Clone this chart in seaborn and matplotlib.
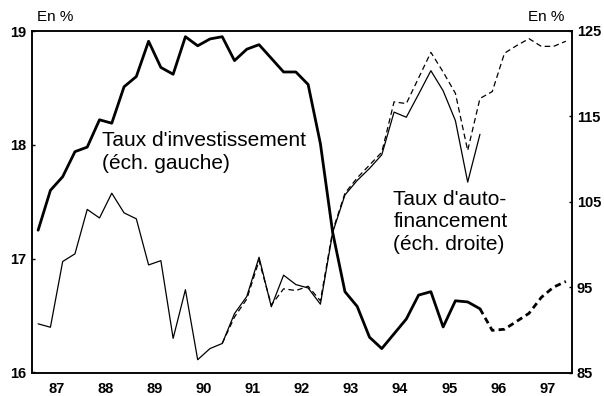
import numpy as np
import pandas as pd
import matplotlib
matplotlib.use("Agg")
import matplotlib.pyplot as plt
import seaborn as sns

# Quarterly series, 1987Q1 .. 1997Q4 (44 quarters)
years = list(range(1987, 1998))
year_labels = ["87", "88", "89", "90", "91", "92", "93", "94", "95", "96", "97"]

# Taux d'investissement (left scale), observed 87Q1..96Q1
invest_obs = [17.25, 17.60, 17.72, 17.94, 17.98, 18.22, 18.19, 18.51,
              18.60, 18.91, 18.68, 18.62, 18.95, 18.87, 18.93, 18.95,
              18.74, 18.84, 18.88, 18.76, 18.64, 18.64, 18.53, 18.01,
              17.23, 16.71, 16.58, 16.31, 16.21, 16.34, 16.47, 16.68,
              16.71, 16.40, 16.63, 16.62, 16.56]
# Taux d'investissement, projection 96Q1..97Q4
invest_proj = [16.56, 16.37, 16.38, 16.45, 16.52, 16.66, 16.75, 16.80]

# Taux d'autofinancement (right scale), observed 87Q1..96Q1
autofin_obs = [90.7, 90.3, 98.0, 98.9, 104.1, 103.1, 106.0, 103.7,
               103.0, 97.6, 98.1, 89.0, 94.7, 86.5, 87.8, 88.4,
               91.9, 93.9, 98.5, 92.7, 96.4, 95.3, 94.9, 93.0,
               101.4, 105.8, 107.5, 108.9, 110.5, 115.5, 114.9, 117.6,
               120.35, 118.0, 114.5, 107.3, 112.9]
# Taux d'autofinancement, alternative series 90Q4..97Q4
autofin_alt = [88.4, 91.5, 93.6, 98.1, 92.9, 94.8, 94.6, 95.1,
               93.4, 101.6, 106.0, 107.8, 109.3, 110.8, 116.7, 116.5,
               119.5, 122.5, 120.2, 117.7, 111.0, 117.1, 117.9, 122.4,
               123.3, 124.1, 123.2, 123.2, 123.8]


def quarter_x(start_index, n):
    # mid-quarter position expressed in fractional years
    k = np.arange(start_index, start_index + n)
    return 1987 + (k + 0.5) / 4.0


sns.set_style("white")
plt.rcParams["font.family"] = ["Liberation Sans", "DejaVu Sans"]
plt.rcParams["lines.scale_dashes"] = False
for key in ("text.color", "axes.labelcolor", "xtick.color", "ytick.color"):
    plt.rcParams[key] = "black"

fig = plt.figure(figsize=(6.04, 3.96), dpi=100)
ax = fig.add_axes([32 / 604, 1 - 372.5 / 396, 540 / 604, 341.5 / 396])
ax2 = ax.twinx()

df_inv = pd.DataFrame({"x": quarter_x(0, len(invest_obs)), "v": invest_obs})
df_inv_p = pd.DataFrame({"x": quarter_x(36, len(invest_proj)), "v": invest_proj})
df_auto = pd.DataFrame({"x": quarter_x(0, len(autofin_obs)), "v": autofin_obs})
df_auto_a = pd.DataFrame({"x": quarter_x(15, len(autofin_alt)), "v": autofin_alt})

sns.lineplot(data=df_inv, x="x", y="v", ax=ax, color="black", linewidth=2.0)
sns.lineplot(data=df_inv_p, x="x", y="v", ax=ax, color="black", linewidth=2.0,
             linestyle=(0, (4.5, 3)))
sns.lineplot(data=df_auto, x="x", y="v", ax=ax2, color="black", linewidth=0.9)
sns.lineplot(data=df_auto_a, x="x", y="v", ax=ax2, color="black", linewidth=0.9,
             linestyle=(0, (4, 2.5)))

ax.set_xlim(1987, 1998)
ax.set_ylim(16, 19)
ax2.set_ylim(85, 125)
ax.set_xlabel("")
ax.set_ylabel("")
ax2.set_ylabel("")

ax.set_yticks([16, 17, 18, 19])
ax.set_yticklabels(["16", "17", "18", "19"])
ax2.set_yticks([85, 95, 105, 115, 125])
ax2.set_yticklabels(["85", "95", "105", "115", "125"])

ax.set_xticks(years[1:])
ax.set_xticklabels([])
ax.set_xticks([y + 0.5 for y in years], minor=True)
ax.set_xticklabels(year_labels, minor=True)

ax.tick_params(axis="x", which="major", direction="in", length=5.5, width=1.0,
               color="black", top=False)
ax.tick_params(axis="x", which="minor", length=0, pad=6.5, labelsize=10.5)
ax.tick_params(axis="y", direction="in", length=2.5, width=1.0, color="black",
               pad=4, labelsize=10.5)
ax2.tick_params(axis="y", direction="in", length=2.5, width=1.0, color="black",
                pad=3.5, labelsize=10.5)
for lab in ax.get_xticklabels(minor=True) + ax.get_yticklabels() + ax2.get_yticklabels():
    lab.set_fontweight("bold")

for a in (ax, ax2):
    for sp in a.spines.values():
        sp.set_color("black")
        sp.set_linewidth(1.1)

ax.text(0.129, 0.646, "Taux d'investissement\n(éch. gauche)", transform=ax.transAxes,
        fontsize=15, ha="left", va="center", linespacing=1.3, color="black")
ax.text(0.669, 0.441, "Taux d'auto-\nfinancement\n(éch. droite)", transform=ax.transAxes,
        fontsize=15, ha="left", va="center", linespacing=1.25, color="black")

fig.text(36.7 / 604, 1 - 17 / 396, "En %", fontsize=11, ha="left", va="center",
         color="black")
fig.text(528 / 604, 1 - 17 / 396, "En %", fontsize=11, ha="left", va="center",
         color="black")

fig.savefig("out.png", dpi=100)
